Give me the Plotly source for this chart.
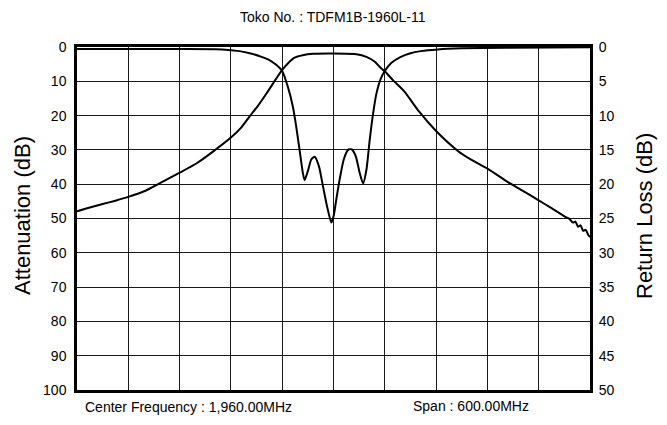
import plotly.graph_objects as go

# Frequency (MHz) and attenuation (dB) of the transmission curve
att_freq = [1660, 1675, 1690, 1705, 1720, 1740, 1757, 1779, 1800, 1819, 1840, 1852, 1862, 1872,
            1882, 1892, 1900, 1906.6, 1914.5, 1924, 1936, 1960, 1987, 1998.5, 2008.3, 2016,
            2020, 2030, 2043, 2060, 2080, 2105.5, 2122, 2141, 2164, 2182, 2200, 2215, 2231,
            2236, 2240, 2243, 2246, 2249, 2252, 2255, 2258, 2260]
att_db = [47.9, 46.8, 45.8, 44.8, 43.7, 41.9, 39.7, 36.8, 33.9, 30.5, 26.4, 23.5, 20.2, 17.0,
          13.4, 9.6, 6.7, 4.8, 3.1, 2.4, 2.0, 1.9, 2.1, 2.9, 4.3, 6.3,
          7.1, 9.8, 13.0, 18.8, 24.5, 30.3, 33.0, 35.6, 39.4, 42.0, 44.7, 47.0, 49.5,
          50.1, 51.2, 50.9, 52.4, 52.0, 53.6, 53.3, 54.8, 55.4]

# Frequency (MHz) and return loss (dB) of the reflection curve
rl_freq = [1660, 1720, 1780, 1830, 1850, 1862, 1875, 1885, 1893, 1900, 1906.6, 1912.5, 1916.4,
           1920.3, 1924.2, 1926.2, 1930, 1934, 1938, 1943, 1947.7, 1952.4, 1957.5, 1960.2,
           1963.3, 1967.2, 1972, 1977, 1981, 1986, 1990.7, 1994.6, 1998.5, 2002.4, 2006.3,
           2010.2, 2015.3, 2020, 2027.8, 2037.6, 2050, 2062, 2082, 2110, 2160, 2260]
rl_db = [0.3, 0.3, 0.3, 0.35, 0.6, 0.9, 1.4, 1.9, 2.6, 3.5, 5.8, 8.7, 11.6,
         15.0, 18.4, 19.4, 18.1, 16.4, 16.0, 17.4, 20.3, 23.2, 25.6, 24.6,
         22.2, 19.3, 16.4, 15.0, 14.9, 15.9, 18.4, 19.9, 17.9, 13.5, 9.7,
         6.8, 4.6, 3.5, 2.3, 1.5, 0.9, 0.6, 0.35, 0.2, 0.1, 0.05]

x_ticks = [1660 + 60 * i for i in range(11)]
att_ticks = list(range(0, 101, 10))
rl_ticks = list(range(0, 51, 5))

title_text = "Toko No. : TDFM1B-1960L-11"
center_text = "Center Frequency : 1,960.00MHz"
span_text = "Span : 600.00MHz"

FONT = "Liberation Sans, Arial, Helvetica, sans-serif"

# page body has an 8px margin; figure is sized to fit inside the window
W, H = 651, 409
ML, MR, MT, MB = 69, 69, 39, 27
PW, PH = W - ML - MR, H - MT - MB


def px(xw):
    return (xw - 8 - ML) / PW


def py(yw):
    return (H - MB - (yw - 8)) / PH


fig = go.Figure()
fig.add_trace(go.Scatter(x=att_freq, y=att_db, mode="lines", yaxis="y",
                         line=dict(color="black", width=2, shape="spline", smoothing=0.6),
                         showlegend=False, hoverinfo="skip"))
fig.add_trace(go.Scatter(x=rl_freq, y=rl_db, mode="lines", yaxis="y2",
                         line=dict(color="black", width=2, shape="spline", smoothing=0.6),
                         showlegend=False, hoverinfo="skip"))

fig.update_layout(
    width=W, height=H,
    margin=dict(l=ML, r=MR, t=MT, b=MB, autoexpand=False),
    paper_bgcolor="white", plot_bgcolor="white",
    font=dict(family=FONT, color="black", size=14),
    xaxis=dict(range=[1660, 2260], tickvals=x_ticks, showticklabels=False,
               showgrid=True, gridcolor="#1a1a1a", gridwidth=1,
               showline=True, linecolor="black", linewidth=2.5, mirror=True,
               zeroline=False, ticks=""),
    yaxis=dict(range=[100, 0], tickvals=att_ticks, ticktext=[str(v) for v in att_ticks],
               showgrid=True, gridcolor="#1a1a1a", gridwidth=1,
               showline=True, linecolor="black", linewidth=2.5, mirror=True,
               zeroline=False, ticks="outside", ticklen=5, tickcolor="rgba(0,0,0,0)",
               tickfont=dict(size=14, family=FONT)),
    yaxis2=dict(range=[50, 0], tickvals=rl_ticks, ticktext=[str(v) for v in rl_ticks],
                overlaying="y", side="right", showgrid=False, zeroline=False,
                showline=False, ticks="outside", ticklen=5, tickcolor="rgba(0,0,0,0)",
                tickfont=dict(size=14, family=FONT)),
    annotations=[
        dict(text=title_text, x=px(333), y=py(17), xref="paper", yref="paper",
             showarrow=False, font=dict(size=14, family=FONT),
             xanchor="center", yanchor="middle"),
        dict(text="Attenuation (dB)", x=px(22), y=py(216), xref="paper", yref="paper",
             showarrow=False, textangle=-90, font=dict(size=22, family=FONT),
             xanchor="center", yanchor="middle"),
        dict(text="Return Loss (dB)", x=px(644), y=py(216), xref="paper", yref="paper",
             showarrow=False, textangle=-90, font=dict(size=22, family=FONT),
             xanchor="center", yanchor="middle"),
        dict(text=center_text, x=px(83), y=py(407), xref="paper", yref="paper",
             showarrow=False, font=dict(size=14, family=FONT),
             xanchor="left", yanchor="middle"),
        dict(text=span_text, x=px(411), y=py(406), xref="paper", yref="paper",
             showarrow=False, font=dict(size=14, family=FONT),
             xanchor="left", yanchor="middle"),
    ],
)

fig.write_html("out.html")
